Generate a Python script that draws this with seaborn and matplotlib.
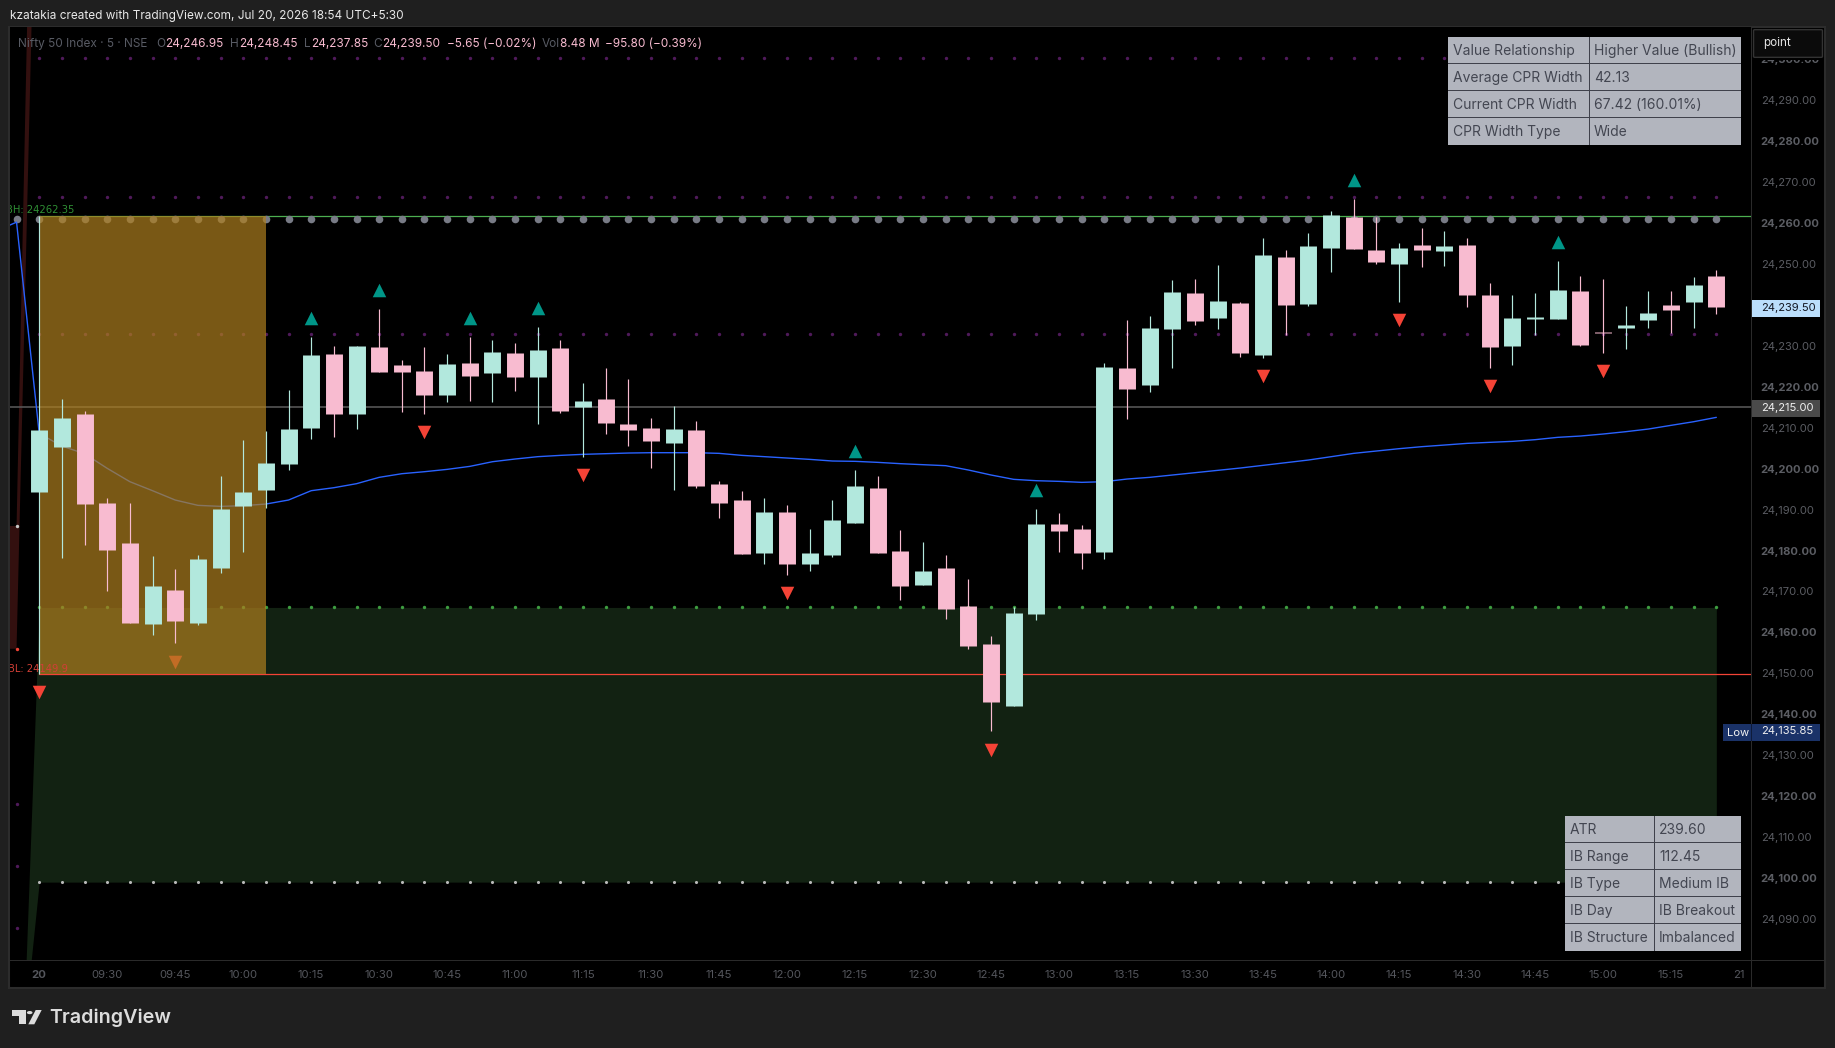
import numpy as np
import pandas as pd
import matplotlib
matplotlib.use("Agg")
import matplotlib.pyplot as plt
from matplotlib.patches import Rectangle, FancyBboxPatch, Polygon, Circle
import seaborn as sns

# OHLC, one entry per 5 minute bar starting 09:15
bar_open = [24194.3, 24205.3, 24213.3, 24191.6, 24181.8, 24162.0, 24170.4, 24162.3, 24175.7, 24190.9,
            24194.8, 24201.1, 24209.9, 24228.0, 24213.3, 24229.7, 24225.3, 24223.8, 24218.0, 24225.8,
            24223.4, 24228.2, 24222.4, 24229.5, 24215.0, 24217.0, 24210.9, 24209.9, 24206.3, 24209.4,
            24196.2, 24192.3, 24179.4, 24189.4, 24176.7, 24178.9, 24186.7, 24195.3, 24179.9, 24171.6,
            24175.7, 24166.4, 24157.2, 24142.0, 24164.5, 24186.5, 24185.2, 24179.6, 24224.6, 24220.4,
            24234.1, 24242.9, 24236.8, 24240.5, 24227.8, 24251.7, 24240.2, 24253.9, 24261.5, 24253.4,
            24250.0, 24254.6, 24253.2, 24254.6, 24242.4, 24229.95, 24236.55, 24236.55, 24243.4, 24233.4,
            24234.4, 24236.3, 24240.0, 24240.7, 24246.95]
bar_high = [24261.8, 24217.0, 24214.1, 24192.8, 24191.6, 24178.6, 24175.5, 24178.9, 24198.2, 24207.0,
            24209.2, 24219.2, 24232.1, 24229.95, 24230.0, 24239.0, 24226.5, 24229.7, 24228.0, 24232.1,
            24231.4, 24230.7, 24234.6, 24231.4, 24220.9, 24224.6, 24221.9, 24212.4, 24215.3, 24211.6,
            24197.0, 24194.5, 24192.8, 24191.1, 24185.2, 24192.3, 24199.7, 24198.2, 24185.0, 24182.1,
            24178.9, 24173.0, 24159.1, 24166.2, 24190.1, 24189.1, 24186.2, 24225.8, 24236.3, 24237.3,
            24246.1, 24246.3, 24249.7, 24240.7, 24256.3, 24253.4, 24257.5, 24262.9, 24265.9, 24261.5,
            24255.1, 24258.8, 24258.0, 24256.3, 24245.3, 24242.4, 24242.9, 24250.7, 24247.1, 24246.3,
            24239.7, 24243.4, 24243.4, 24246.8, 24248.45]
bar_low = [24149.9, 24178.2, 24181.3, 24170.1, 24162.3, 24159.4, 24157.4, 24161.8, 24174.5, 24179.6,
           24190.4, 24199.7, 24207.2, 24207.7, 24209.7, 24223.6, 24213.8, 24213.3, 24216.3, 24216.5,
           24216.3, 24219.0, 24210.9, 24213.6, 24202.8, 24208.5, 24205.5, 24200.2, 24194.8, 24195.3,
           24187.9, 24179.1, 24176.7, 24174.0, 24175.0, 24178.4, 24186.7, 24179.4, 24167.9, 24171.6,
           24163.3, 24155.9, 24135.85, 24142.0, 24163.0, 24179.6, 24175.5, 24177.9, 24212.1, 24218.7,
           24224.6, 24235.1, 24234.1, 24227.3, 24227.0, 24232.6, 24239.7, 24248.0, 24253.65, 24250.0,
           24240.7, 24249.3, 24249.5, 24239.5, 24224.6, 24225.3, 24232.6, 24236.55, 24230.0, 24228.2,
           24229.2, 24234.4, 24233.1, 24234.4, 24237.85]
bar_close = [24209.4, 24212.4, 24191.4, 24180.1, 24162.3, 24171.3, 24162.8, 24177.9, 24190.1, 24194.3,
             24201.4, 24209.7, 24227.8, 24213.3, 24229.95, 24223.6, 24223.6, 24218.0, 24225.6, 24222.6,
             24228.5, 24222.4, 24229.0, 24214.1, 24216.5, 24211.2, 24209.4, 24206.7, 24209.7, 24195.8,
             24191.6, 24179.1, 24189.4, 24176.7, 24179.4, 24187.5, 24195.8, 24179.4, 24171.3, 24175.0,
             24165.7, 24156.7, 24143.0, 24164.7, 24186.5, 24184.8, 24179.4, 24224.8, 24219.5, 24234.4,
             24243.1, 24236.1, 24240.9, 24228.2, 24252.2, 24240.0, 24254.4, 24262.0, 24253.65, 24250.5,
             24253.9, 24253.4, 24254.4, 24242.4, 24229.7, 24236.8, 24237.0, 24243.6, 24230.2, 24233.1,
             24235.1, 24238.0, 24238.8, 24244.9, 24239.5]

# blue average line, bars -1.29 and -1 belong to the previous session
avg_line = [24259.5, 24260.2, 24208.6, 24205.5, 24203.65, 24200.07, 24196.81, 24194.61, 24192.33, 24191.03,
            24190.78, 24190.95, 24191.35, 24192.33, 24194.61, 24195.34, 24196.32, 24197.87, 24198.76, 24199.25,
            24199.82, 24200.55, 24201.69, 24202.35, 24202.92, 24203.24, 24203.49, 24203.65, 24203.81, 24203.89,
            24203.89, 24203.89, 24203.73, 24203.24, 24202.92, 24202.59, 24202.26, 24201.86, 24201.78, 24201.53,
            24201.21, 24200.96, 24200.72, 24199.66, 24198.44, 24197.38, 24197.05, 24196.89, 24196.65, 24196.81,
            24197.46, 24197.87, 24198.44, 24199.01, 24199.58, 24200.15, 24200.80, 24201.45, 24202.10, 24202.91,
            24203.73, 24204.30, 24204.87, 24205.36, 24205.76, 24206.17, 24206.42, 24206.66, 24207.07, 24207.64,
            24207.96, 24208.45, 24209.02, 24209.67, 24210.57, 24211.46, 24212.52]
avg_x = [-1.29, -1] + list(range(75))

# signal triangles
up_bars = [12, 15, 19, 22, 36, 44, 58, 67]
up_prices = [24236.8, 24243.6, 24236.8, 24239.2, 24204.3, 24194.8, 24270.5, 24255.4]
down_bars = [0, 6, 17, 24, 33, 42, 54, 60, 64, 69]
down_prices = [24145.4, 24152.8, 24208.9, 24198.4, 24169.6, 24131.3, 24222.6, 24236.3, 24220.2, 24223.9]

# levels
ib_high = 24261.8
ib_low = 24149.9
prev_close_line = 24215.0
pivot_purple = [24300.2, 24266.4, 24232.8]
pivot_green = 24166.1
pivot_white = 24099.0
pivot_grey = 24261.05
zone_x = [-1, 0, 74]
zone_top = [24016.7, 24166.1, 24166.1]
zone_bottom = [24045.0, 24099.0, 24099.0]
red_x = [-1.29, -1, 0]
red_top = [24186.0, 24186.0, 24448.6]
red_bottom = [24156.0, 24156.0, 24385.8]
prev_purple = [24118.1, 24102.9, 24087.8]

# tick labels
price_ticks = [24300, 24290, 24280, 24270, 24260, 24250, 24230, 24220, 24210, 24200, 24190, 24180,
               24170, 24160, 24150, 24140, 24130, 24120, 24110, 24100, 24090]
time_pos = [0, 3, 6, 9, 12, 15, 18, 21, 24, 27, 30, 33, 36, 39, 42, 45, 48, 51, 54, 57, 60, 63, 66, 69, 72, 75]
time_labels = ["20", "09:30", "09:45", "10:00", "10:15", "10:30", "10:45", "11:00", "11:15", "11:30",
               "11:45", "12:00", "12:15", "12:30", "12:45", "13:00", "13:15", "13:30", "13:45", "14:00",
               "14:15", "14:30", "14:45", "15:00", "15:15", "21"]

table_top = [["Value Relationship", "Higher Value (Bullish)"],
             ["Average CPR Width", "42.13"],
             ["Current CPR Width", "67.42 (160.01%)"],
             ["CPR Width Type", "Wide"]]
table_bottom = [["ATR", "239.60"],
                ["IB Range", "112.45"],
                ["IB Type", "Medium IB"],
                ["IB Day", "IB Breakout"],
                ["IB Structure", "Imbalanced"]]

UP = "#b2e8dd"
DOWN = "#f8bbd0"
BG = "#1f1f1f"
W, H = 1835, 1048

sns.set_theme(style="dark", rc={"axes.facecolor": "black", "figure.facecolor": BG})
plt.rcParams["font.family"] = ["Inter", "DejaVu Sans"]

fig = plt.figure(figsize=(W / 100, H / 100), dpi=100)
ax = fig.add_axes([10 / W, 1 - 960 / H, (1751 - 10) / W, (960 - 27) / H])


def fx(x):
    return x / W


def fy(y):
    return 1 - y / H


def pixel_rect(x0, y0, x1, y1, **kw):
    fig.add_artist(Rectangle((fx(x0), fy(y1)), (x1 - x0) / W, (y1 - y0) / H,
                             transform=fig.transFigure, **kw))


def pixel_text(x, y, s, **kw):
    kw.setdefault("va", "center")
    kw.setdefault("zorder", 10)
    fig.text(fx(x), fy(y), s, **kw)


# pane behind everything
pixel_rect(9, 27, 1825, 988, facecolor="black", edgecolor="#2c2c2c", linewidth=1.5, zorder=-5)

candles = pd.DataFrame({"bar": np.arange(len(bar_open)), "open": bar_open, "high": bar_high,
                        "low": bar_low, "close": bar_close})
candles["side"] = np.where(candles["close"] >= candles["open"], "up", "down")
side_colors = {"up": UP, "down": DOWN}

# zones and level lines
ax.fill_between(red_x, red_bottom, red_top, color="#33100f", linewidth=0, zorder=1)
ax.fill_between(zone_x, zone_bottom, zone_top, color="#122212", linewidth=0, zorder=1)
ax.axhline(prev_close_line, color="#555555", linewidth=1.2, zorder=2)
ax.plot([0, 80], [ib_high, ib_high], color="#4caf50", linewidth=0.9, zorder=2)
ax.plot([0, 80], [ib_low, ib_low], color="#f44336", linewidth=0.9, zorder=2)

# dotted pivot rows
all_bars = candles["bar"].to_numpy()
for level in pivot_purple:
    sns.scatterplot(x=all_bars, y=np.full(75, level), color="#4f1a5a", s=6, linewidth=0, zorder=2, ax=ax)
sns.scatterplot(x=all_bars, y=np.full(75, pivot_green), color="#3d9c40", s=6, linewidth=0, zorder=2, ax=ax)
sns.scatterplot(x=all_bars, y=np.full(75, pivot_white), color="#b8b8b8", s=5, linewidth=0, zorder=2, ax=ax)
sns.scatterplot(x=all_bars, y=np.full(75, pivot_grey), color="#787b86", s=30, linewidth=0, zorder=2, ax=ax)

# leftovers of the previous session
sns.scatterplot(x=[-1], y=[pivot_grey], color="#787b86", s=30, linewidth=0, zorder=2, ax=ax)
sns.scatterplot(x=[-1, -1, -1], y=prev_purple, color="#4f1a5a", s=6, linewidth=0, zorder=2, ax=ax)
sns.scatterplot(x=[-1], y=[24155.9], color="#f44336", s=6, linewidth=0, zorder=2, ax=ax)
sns.scatterplot(x=[-1], y=[24186.1], color="#c8c8c8", s=6, linewidth=0, zorder=2, ax=ax)

sns.lineplot(x=avg_x, y=avg_line, color="#2962ff", linewidth=1.0, estimator=None, sort=False, zorder=2, ax=ax)

# triangles, the down ones stay under the opening range box
sns.scatterplot(x=up_bars, y=up_prices, marker="^", color="#009688", s=95, linewidth=0, zorder=3.6, ax=ax)
sns.scatterplot(x=down_bars, y=down_prices, marker="v", color="#f44336", s=95, linewidth=0, zorder=2.5, ax=ax)

# opening range box
ax.add_patch(Rectangle((0, ib_low), 10, ib_high - ib_low, facecolor="#ae7e1e", alpha=0.7,
                       linewidth=0, zorder=3))

# candles: wicks and bodies as vertical segments
wicks = candles.melt(id_vars=["bar", "side"], value_vars=["high", "low"], value_name="price")
bodies = candles.melt(id_vars=["bar", "side"], value_vars=["open", "close"], value_name="price")
sns.lineplot(data=wicks, x="bar", y="price", hue="side", units="bar", estimator=None, palette=side_colors,
             legend=False, linewidth=0.85, solid_capstyle="butt", zorder=4, sort=False, ax=ax)
sns.lineplot(data=bodies, x="bar", y="price", hue="side", units="bar", estimator=None, palette=side_colors,
             legend=False, linewidth=12.2, solid_capstyle="butt", zorder=4, sort=False, ax=ax)

# level labels, cut by the pane edge as in the original
ax.text(1.53, 24263.1, "BH: 24262.35", color="#2f8f34", fontsize=7.2, ha="right", va="center",
        family="DejaVu Sans", clip_on=True, zorder=3.5)
ax.text(1.27, 24151.05, "BL: 24149.9", color="#d23f36", fontsize=7.2, ha="right", va="center",
        family="DejaVu Sans", clip_on=True, zorder=3.5)

ax.set_xlim(-1.289, 75.53)
ax.set_ylim(24079.98, 24307.87)
ax.set_xlabel("")
ax.set_ylabel("")
ax.grid(False)
for spine in ax.spines.values():
    spine.set_visible(False)

ax.yaxis.tick_right()
ax.set_yticks(price_ticks)
ax.set_yticklabels([f"{p:,.2f}" for p in price_ticks])
ax.set_xticks(time_pos)
ax.set_xticklabels(time_labels)
ax.tick_params(axis="y", length=0, pad=7, labelsize=8.05, labelcolor="#5b5d63")
ax.tick_params(axis="x", length=0, pad=7, labelsize=8.2, labelcolor="#54565c")
for tick, p in zip(ax.get_yticklabels(), price_ticks):
    if p % 20 == 0:
        tick.set_fontweight("bold")
ax.get_xticklabels()[0].set_fontweight("bold")

# pane separators
pixel_rect(10, 960, 1824, 961, facecolor="#2a2a2a", linewidth=0, zorder=5)
pixel_rect(1751, 27, 1752, 987, facecolor="#2a2a2a", linewidth=0, zorder=5)

# header and legend row
pixel_text(10, 16.5, "kzatakia created with TradingView.com, Jul 20, 2026 18:54 UTC+5:30",
           color="#e8e8e8", fontsize=8.5)
legend_grey = "#585b64"
legend_row = [(18, "Nifty 50 Index · 5 · NSE", legend_grey), (156, "O", legend_grey), (165, "24,246.95", DOWN),
              (230, "H", legend_grey), (239, "24,248.45", DOWN), (303.5, "L", legend_grey), (310.7, "24,237.85", DOWN),
              (373.5, "C", legend_grey), (382, "24,239.50", DOWN), (446.6, "−5.65 (−0.02%)", DOWN),
              (542, "Vol", legend_grey), (560, "8.48 M", DOWN), (605, "−95.80 (−0.39%)", DOWN)]
for x, s, c in legend_row:
    pixel_text(x, 44, s, color=c, fontsize=8.5)


# info tables
def draw_table(rows, x0, xs, x1, y0, row_h):
    pixel_rect(x0, y0, x1, y0 + row_h * len(rows), facecolor="#b2b5be", linewidth=0, zorder=6)
    pixel_rect(xs - 0.5, y0, xs + 0.5, y0 + row_h * len(rows), facecolor="#3f414b", linewidth=0, zorder=7)
    for i, (left, right) in enumerate(rows):
        cy = y0 + row_h * i + row_h / 2 + 1
        pixel_text(x0 + 4.5, cy, left, color="#434651", fontsize=10, zorder=8)
        pixel_text(xs + 4.5, cy, right, color="#434651", fontsize=10, zorder=8)
        if i:
            pixel_rect(x0, y0 + row_h * i - 0.5, x1, y0 + row_h * i + 0.5, facecolor="#3f414b", linewidth=0, zorder=7)


draw_table(table_top, 1448, 1589.5, 1741, 37, 26.9)
draw_table(table_bottom, 1565, 1654.5, 1741, 816, 26.9)

# interval box on the price scale, it hides most of the top tick label
pixel_rect(1753, 28, 1824, 60, facecolor="black", linewidth=0, zorder=5.5)
fig.add_artist(FancyBboxPatch((fx(1755), fy(56.5)), 66 / W, 26 / H, boxstyle="round,pad=0.0008",
                              transform=fig.transFigure, facecolor="#0b0b0b", edgecolor="#333333",
                              linewidth=1, zorder=6))
pixel_text(1763, 43, "point", color="#e6e6e6", fontsize=8.4, zorder=8)

# price labels on the scale
pixel_rect(1752, 300, 1820, 316.7, facecolor="#bbdefb", linewidth=0, zorder=6)
pixel_text(1761, 307.8, "24,239.50", color="#131722", fontsize=8.05, zorder=8)
pixel_rect(1752, 400, 1820, 416.7, facecolor="#4a4a4a", linewidth=0, zorder=6)
pixel_text(1761, 407.8, "24,215.00", color="#f0f0f0", fontsize=8.05, zorder=8)
pixel_rect(1723, 724, 1820, 741, facecolor="#1a3268", linewidth=0, zorder=6)
pixel_rect(1751, 724, 1752, 741, facecolor="#0e1b3a", linewidth=0, zorder=7)
pixel_text(1726.5, 732.5, "Low", color="#f0f0f0", fontsize=8.05, zorder=8)
pixel_text(1761, 731.5, "24,135.85", color="#f0f0f0", fontsize=8.05, zorder=8)

# TradingView mark
logo = "#dcdcdc"
pixel_rect(12, 1010, 26, 1015.5, facecolor=logo, linewidth=0, zorder=8)
pixel_rect(19.3, 1015, 26, 1024.3, facecolor=logo, linewidth=0, zorder=8)
fig.add_artist(Circle((fx(29.7), fy(1012.6)), 2.8 / W, transform=fig.transFigure, facecolor=logo, linewidth=0, zorder=8))
fig.add_artist(Polygon([(fx(28.3), fy(1024.3)), (fx(34.3), fy(1024.3)), (fx(41.7), fy(1010)), (fx(35.7), fy(1010))],
                       transform=fig.transFigure, facecolor=logo, linewidth=0, zorder=8))
pixel_text(49, 1018, "TradingView", color=logo, fontsize=14.2, fontweight="semibold", zorder=8)

fig.savefig("out.png", dpi=100, facecolor=BG)
